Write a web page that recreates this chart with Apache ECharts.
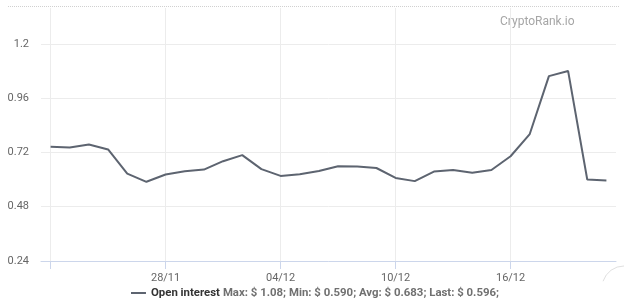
<!DOCTYPE html>
<html>
<head>
<meta charset="utf-8">
<script src="https://cdn.jsdelivr.net/npm/echarts@6/dist/echarts.min.js"></script>
<style>
html,body{margin:0;padding:0;background:#fff;}
#chart{width:630px;height:306px;}
</style>
</head>
<body>
<div id="chart"></div>
<script>
const dates = ['22/11','23/11','24/11','25/11','26/11','27/11','28/11','29/11','30/11','01/12',
  '02/12','03/12','04/12','05/12','06/12','07/12','08/12','09/12','10/12','11/12',
  '12/12','13/12','14/12','15/12','16/12','17/12','18/12','19/12','20/12','21/12'];
const openInterest = [0.745,0.742,0.755,0.733,0.626,0.590,0.622,0.637,0.644,0.681,
  0.708,0.646,0.616,0.623,0.638,0.659,0.658,0.651,0.607,0.593,
  0.635,0.642,0.630,0.642,0.703,0.801,1.057,1.08,0.600,0.596];
const seriesName = 'Open interest';
const statsText = 'Max: $ 1.08; Min: $ 0.590; Avg: $ 0.683; Last: $ 0.596;';
const yTicks = {min: 0.24, max: 1.358, interval: 0.24};
const watermark = 'CryptoRank.io';

const FONT = 'Roboto, "Liberation Sans", Arial, sans-serif';
const chart = echarts.init(document.getElementById('chart'), null, {renderer: 'canvas'});
chart.setOption({
  animation: false,
  backgroundColor: '#fff',
  textStyle: {fontFamily: FONT},
  grid: {left: 41, right: 14, top: 8, bottom: 45},
  xAxis: {
    type: 'category',
    data: dates,
    boundaryGap: true,
    axisLine: {lineStyle: {color: '#ccd6eb', width: 1}},
    axisTick: {show: true, alignWithLabel: true, interval: 5, length: 8, lineStyle: {color: '#ccd6eb'}},
    splitLine: {show: true, alignWithLabel: true, interval: 5, lineStyle: {color: '#ececec', width: 1}},
    axisLabel: {
      interval: 5, color: '#666', fontSize: 11, margin: 12, fontFamily: FONT,
      formatter: (v, i) => i === 0 ? '' : v
    }
  },
  yAxis: {
    type: 'value',
    min: yTicks.min, max: yTicks.max, interval: yTicks.interval,
    axisLine: {show: false},
    axisTick: {show: false},
    splitLine: {show: true, lineStyle: {color: ['#ececec','#ececec','#ececec','#ececec','#ececec','rgba(0,0,0,0)'], width: 1}},
    axisLabel: {color: '#666', fontSize: 11, margin: 12, showMaxLabel: false, fontFamily: FONT}
  },
  legend: {
    bottom: 2, left: 'center',
    icon: 'rect', itemWidth: 15, itemHeight: 2, itemGap: 6,
    data: [seriesName],
    formatter: name => '{b|' + name + '} {n|' + statsText + '}',
    textStyle: {
      fontFamily: FONT,
      rich: {
        b: {fontWeight: 'bold', color: '#333', fontSize: 11.4, fontFamily: FONT},
        n: {color: '#707070', fontSize: 11.4, fontWeight: 'bold', fontFamily: FONT}
      }
    }
  },
  graphic: [
    {type: 'text', left: 500, top: 16, style: {text: watermark, fill: '#a6a6a6', font: '12px ' + FONT}},
    {type: 'line', shape: {x1: 8, y1: 6.5, x2: 620, y2: 6.5}, style: {stroke: '#d0d0d0', lineDash: [1, 1], lineWidth: 1}},
    {type: 'arc', shape: {cx: 624, cy: 288, r: 22, startAngle: Math.PI * 1.1, endAngle: Math.PI * 1.5}, style: {stroke: '#e0e0e0', fill: null, lineWidth: 1}}
  ],
  series: [{
    name: seriesName,
    type: 'line',
    data: openInterest,
    showSymbol: false,
    symbol: 'none',
    lineStyle: {color: '#5d6470', width: 2},
    itemStyle: {color: '#5d6470'}
  }]
});
</script>
</body>
</html>
